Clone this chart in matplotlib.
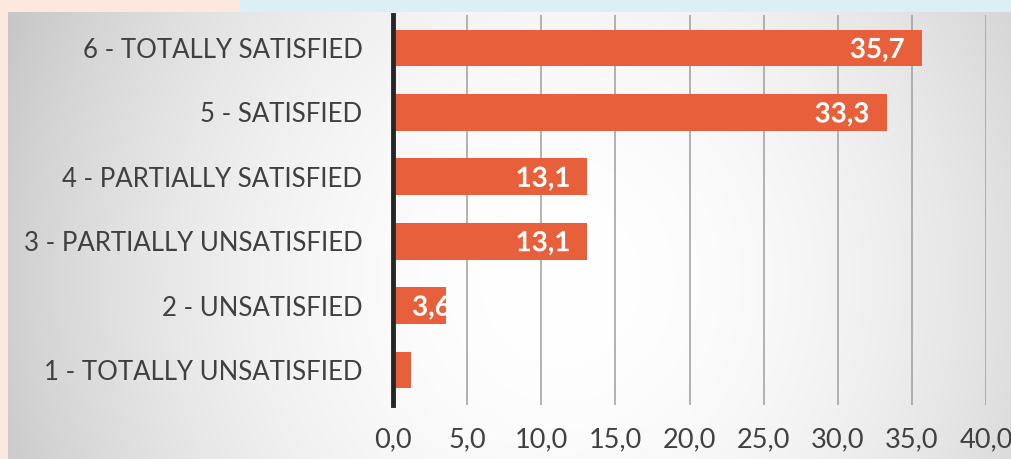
import matplotlib.pyplot as plt
import matplotlib.transforms as mtransforms
import numpy as np
from matplotlib.font_manager import FontProperties
from matplotlib.patches import PathPatch
from matplotlib.textpath import TextPath

categories = [
    "1 - TOTALLY UNSATISFIED",
    "2 - UNSATISFIED",
    "3 - PARTIALLY UNSATISFIED",
    "4 - PARTIALLY SATISFIED",
    "5 - SATISFIED",
    "6 - TOTALLY SATISFIED",
]
values = [1.2, 3.6, 13.1, 13.1, 33.3, 35.7]
x_ticks = [0, 5, 10, 15, 20, 25, 30, 35, 40]

W, H = 1011, 459
BAR_COLOR = "#e8603b"
TEXT_COLOR = "#404040"

plt.rcParams["font.family"] = ["Lato", "DejaVu Sans"]

fig = plt.figure(figsize=(W / 100, H / 100), dpi=100)

# backdrop: pale slide colours with a grey radial gradient panel on top
bg = fig.add_axes([0, 0, 1, 1])
bg.set_axis_off()
yy, xx = np.mgrid[0:H, 0:W]
d = np.sqrt(((xx - 560) / 560.0) ** 2 + ((yy - 280) / 600.0) ** 2)
shade = np.clip(1.0 - 0.19 * d ** 2, 0, 1)
img = np.dstack([shade, shade, shade]).clip(0, 1)
slide_pink = np.array([0.988, 0.91, 0.875])
slide_cyan = np.array([0.86, 0.94, 0.96])
top = yy < 12
img[top & (xx < 240)] = slide_pink
img[top & (xx >= 240)] = slide_cyan
img[(xx < 8)] = slide_pink
bg.imshow(img, extent=[0, W, H, 0], aspect="auto", interpolation="bilinear")
bg.set_xlim(0, W)
bg.set_ylim(H, 0)

ax = fig.add_axes([393 / W, 54 / H, 593 / W, 390 / H])
ax.patch.set_alpha(0)
pos = np.arange(len(categories))
bars = ax.barh(pos, values, height=0.57, color=BAR_COLOR, zorder=3)

ax.set_xlim(0, 40)
ax.set_ylim(-0.543, 5.512)
ax.set_xticks(x_ticks)
ax.set_xticklabels([f"{t:.1f}".replace(".", ",") for t in x_ticks])
ax.set_yticks(pos)
ax.set_yticklabels(categories)
ax.tick_params(axis="both", length=0, labelcolor=TEXT_COLOR)
ax.tick_params(axis="y", pad=22, labelsize=18.5)
ax.tick_params(axis="x", pad=16, labelsize=19.5)
ax.grid(axis="x", color="#9e9e9e", linewidth=1.1, zorder=1)
ax.set_axisbelow(True)
for side in ["top", "right", "bottom"]:
    ax.spines[side].set_visible(False)
ax.spines["left"].set_color("#262626")
ax.spines["left"].set_linewidth(3.5)
ax.spines["left"].set_zorder(4)

# value labels sit inside the bar end; drawn as paths so they clip to the bar
label_font = FontProperties(family="Lato", weight="bold")
label_size = 20
px_per_pt = fig.dpi / 72.0
for bar, v in zip(bars, values):
    label = f"{v:.1f}".replace(".", ",")
    tp = TextPath((0, 0), label, size=label_size, prop=label_font)
    ext = tp.get_extents()
    cap = TextPath((0, 0), "3", size=label_size, prop=label_font).get_extents()
    if v >= 8:
        tx, dx = v - 1.25, -ext.x1
    else:
        tx, dx = 1.35, -ext.x0
    ty = bar.get_y() + bar.get_height() / 2
    trans = (mtransforms.Affine2D().translate(dx, -(cap.y0 + cap.y1) / 2).scale(px_per_pt)
             + mtransforms.ScaledTranslation(tx, ty, ax.transData))
    patch = PathPatch(tp, transform=trans, facecolor="white", edgecolor="none", zorder=5)
    ax.add_patch(patch)
    patch.set_clip_path(bar)

fig.savefig("out.png", dpi=100)
